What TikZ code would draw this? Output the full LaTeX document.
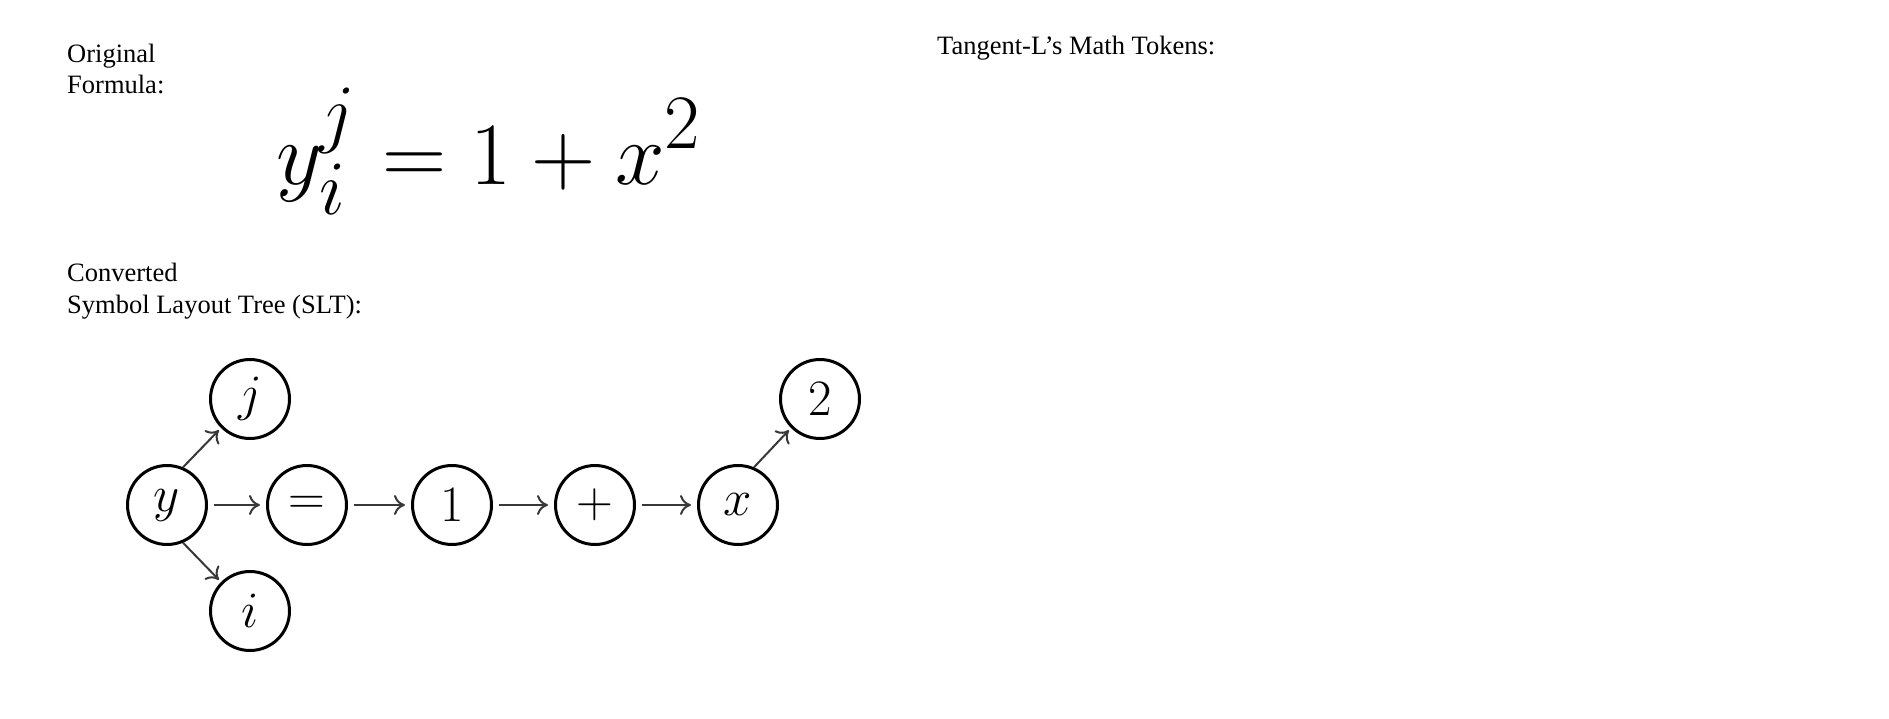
\RequirePackage{fix-cm}
\documentclass[tikz,border=0pt]{standalone}
\usepackage[no-math]{fontspec}
\setmainfont{Liberation Serif}
\usetikzlibrary{arrows.meta}
\DeclareMathSizes{89}{89}{77}{60}
\begin{document}
\begin{tikzpicture}[x=1pt,y=-1pt,
  sym/.style={circle,draw=black,line width=3pt,minimum size=79pt,inner sep=0pt,
    font=\fontsize{51}{51}\selectfont},
  edge/.style={line width=2pt,draw=black!78,-{To[length=11pt,width=20pt]},
    shorten <=6pt,shorten >=6pt},
  diag/.style={edge,shorten <=0pt,shorten >=3pt},
  lbl/.style={anchor=base west,inner sep=0pt,font=\fontsize{26.5}{31}\selectfont}]
\path[use as bounding box,fill=white] (0,0) rectangle (1889,719);

\node[lbl] (orig1) at (67,63) {Original};
\node[lbl] (orig2) at (67,94) {Formula:};
\node[lbl] (conv1) at (67,282) {Converted};
\node[lbl] (conv2) at (67,313) {Symbol Layout Tree (SLT):};
\node[lbl] (tok) at (937,55) {Tangent-L’s Math Tokens:};

\node[anchor=base west,inner sep=0pt,font=\fontsize{89}{89}\selectfont] (formula) at (276,185)
  {$\displaystyle y\kern-2pt\rlap{\raisebox{-30pt}{$\scriptstyle i$}}\raisebox{46pt}{$\scriptstyle j$}\kern2pt = 1 + x^2$};

\node[sym] (y) at (167,505) {$y$};
\node[sym] (eq) at (307,505) {$=$};
\node[sym] (one) at (452,505) {$1$};
\node[sym] (plus) at (595,505) {$+$};
\node[sym] (x) at (738,505) {$x$};
\node[sym] (j) at (250,399) {$j$};
\node[sym] (i) at (250,611) {$i$};
\node[sym] (two) at (820,399) {$2$};

\draw[edge] (y) -- (eq);
\draw[edge] (eq) -- (one);
\draw[edge] (one) -- (plus);
\draw[edge] (plus) -- (x);
\draw[diag] (y.67) -- (j.225);
\draw[diag] (y.-67) -- (i.135);
\draw[diag] (x.67) -- (two.225);
\end{tikzpicture}
\end{document}
